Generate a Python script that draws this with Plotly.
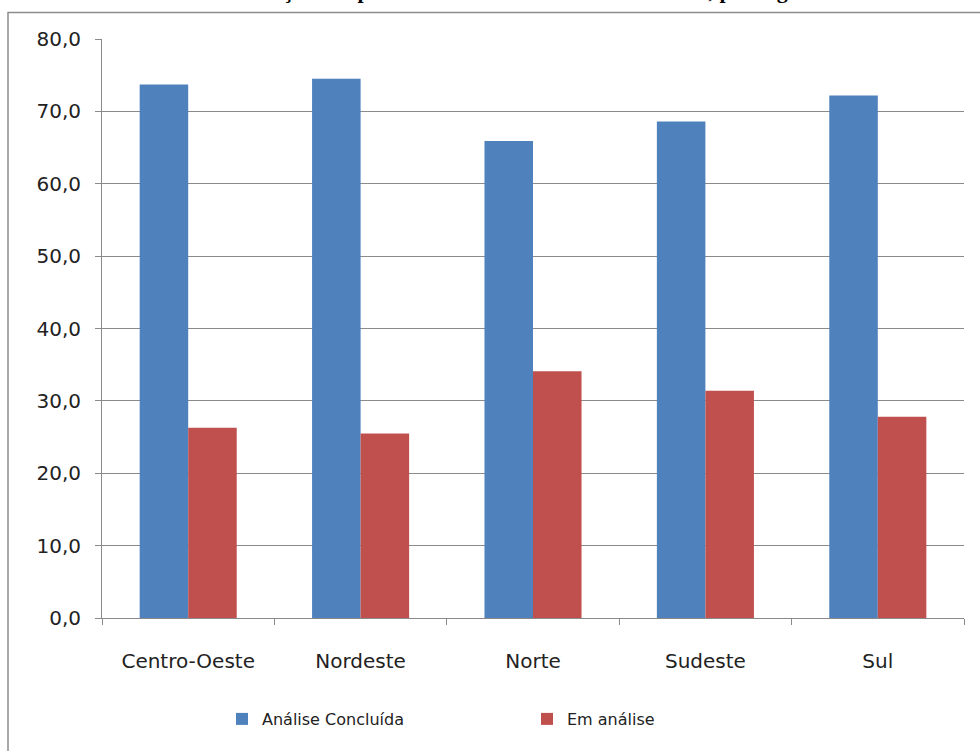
import plotly.graph_objects as go

categories = ["Centro-Oeste", "Nordeste", "Norte", "Sudeste", "Sul"]
concluida = [73.7, 74.5, 65.9, 68.6, 72.2]
em_analise = [26.3, 25.5, 34.1, 31.4, 27.8]
series_names = ["Análise Concluída", "Em análise"]
y_ticks = [0, 10, 20, 30, 40, 50, 60, 70, 80]
title_text = "Situação dos processos de licenciamento ambiental, por região"

W, H = 980, 751
L, R, T, B = 102, 16, 39, 133
pw, ph = W - L - R, H - T - B

def px_x(p):
    return (p - L) / pw

def px_y(p):
    return (H - B - p) / ph

fig = go.Figure()
fig.add_trace(go.Bar(x=categories, y=concluida, name=series_names[0],
                     marker=dict(color="#4F81BD", line=dict(width=0))))
fig.add_trace(go.Bar(x=categories, y=em_analise, name=series_names[1],
                     marker=dict(color="#C0504D", line=dict(width=0))))

grid = "#8a8a8a"
fig.update_layout(
    width=W, height=H,
    margin=dict(l=L, r=R, t=T, b=B, autoexpand=False),
    paper_bgcolor="white", plot_bgcolor="white",
    separators=", ",
    barmode="group", bargap=0.437, bargroupgap=0,
    font=dict(family="DejaVu Sans", color="#222222"),
    showlegend=True,
    legend=dict(orientation="h", x=px_x(222), xanchor="left",
                y=px_y(719), yanchor="middle",
                font=dict(size=16, family="DejaVu Sans", color="#222222"),
                entrywidth=260, entrywidthmode="pixels",
                itemwidth=30, bgcolor="rgba(0,0,0,0)"),
    xaxis=dict(showgrid=False, showline=True, linecolor=grid, linewidth=1,
               ticks="outside", ticklen=6, tickcolor=grid, tickson="boundaries",
               tickfont=dict(size=20, family="DejaVu Sans", color="#222222"),
               ticklabelstandoff=25, fixedrange=True),
    yaxis=dict(range=[0, 80], tickvals=y_ticks, tickformat=".1f",
               showgrid=True, gridcolor=grid, gridwidth=1,
               showline=True, linecolor=grid, linewidth=1,
               ticks="outside", ticklen=6, tickcolor=grid,
               tickfont=dict(size=20, family="DejaVu Sans", color="#222222"),
               ticklabelstandoff=10, zeroline=False, fixedrange=True),
    shapes=[dict(type="rect", xref="paper", yref="paper",
                 x0=px_x(8), x1=px_x(1000), y0=px_y(800), y1=px_y(12.5),
                 line=dict(color="#8c8c8c", width=1.5), fillcolor="rgba(0,0,0,0)",
                 layer="below")],
    annotations=[dict(text="<b>" + title_text + "</b>", xref="paper", yref="paper",
                      x=px_x(525), xanchor="center", y=px_y(5), yanchor="bottom",
                      showarrow=False,
                      font=dict(family="Liberation Serif", size=22, color="black"))],
)

fig.write_html("out.html", config={"displayModeBar": False},
               post_script="document.body.style.margin='0';")
